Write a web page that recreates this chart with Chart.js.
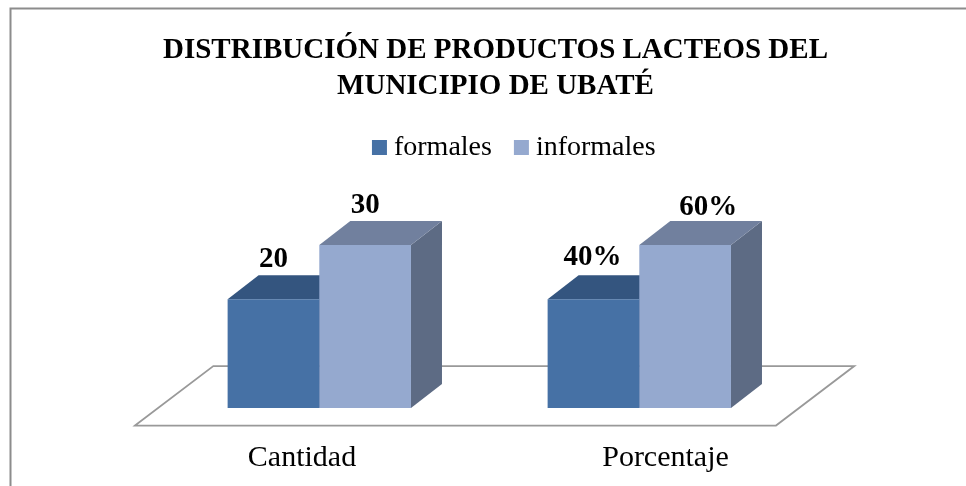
<!DOCTYPE html>
<html>
<head>
<meta charset="utf-8">
<script src="https://cdn.jsdelivr.net/npm/chart.js@4/dist/chart.umd.min.js"></script>
<style>
  html, body { margin: 0; padding: 0; background: #fff; }
  #wrap { width: 966px; height: 486px; position: relative; }
</style>
</head>
<body>
<div id="wrap"><canvas id="chart"></canvas></div>
<script>
const categories = ['Cantidad', 'Porcentaje'];
const seriesNames = ['formales', 'informales'];
const formales = [20, 40];
const informales = [30, 60];
const suffixes = ['', '%'];

const serif = "'Liberation Serif', serif";
const front = ['#4671A5', '#95A9CF'];
const topFace = ['#34557F', '#71809E'];
const sideFace = ['#34557F', '#5D6B84'];
const depthX = 31, depthY = 24;

// each category is drawn as its share, both groups have the same height in the picture
const share = (a, b) => a.map((v, i) => v / (v + b[i]));

// the labels don't sit on the bar centres in the original
const labelShift = [[[0, -1], [-1, -3]], [[0, -1], [23, 1.5]]];
const categoryLabelAt = [142.7, 506.2];

const frame3d = {
  id: 'frame3d',
  afterLayout(chart) {
    // title wider than the plot, otherwise it gets squeezed to the box
    chart.titleBlock.left = 140;
    chart.titleBlock.right = 851;
    chart.legend.left += 38;
    chart.legend.right += 38;
    chart.legend.top -= 0.7;
    chart.legend.bottom -= 0.7;
  },
  beforeDraw(chart) {
    const { ctx } = chart;
    ctx.save();
    ctx.strokeStyle = '#8C8C8C';
    ctx.lineWidth = 2;
    ctx.beginPath();
    ctx.moveTo(10.5, 486);
    ctx.lineTo(10.5, 8.5);
    ctx.lineTo(966, 8.5);
    ctx.stroke();
    ctx.restore();
  },
  beforeDatasetsDraw(chart) {
    const { ctx, scales: { x, y } } = chart;
    const base = y.getPixelForValue(0);
    // floor
    ctx.save();
    ctx.strokeStyle = '#999';
    ctx.lineWidth = 1.75;
    ctx.beginPath();
    ctx.moveTo(x.left - 24.3, base + 17.5);
    ctx.lineTo(x.left + 54, base - 42);
    ctx.lineTo(x.right + 55, base - 42);
    ctx.lineTo(x.right - 23.3, base + 17.5);
    ctx.closePath();
    ctx.stroke();
    // top and side of every bar
    chart.data.datasets.forEach((ds, d) => {
      chart.getDatasetMeta(d).data.forEach(bar => {
        const l = bar.x - bar.width / 2, r = bar.x + bar.width / 2;
        ctx.fillStyle = sideFace[d];
        ctx.beginPath();
        ctx.moveTo(r, bar.y);
        ctx.lineTo(r + depthX, bar.y - depthY);
        ctx.lineTo(r + depthX, bar.base - depthY);
        ctx.lineTo(r, bar.base);
        ctx.closePath();
        ctx.fill();
        ctx.fillStyle = topFace[d];
        ctx.beginPath();
        ctx.moveTo(l, bar.y);
        ctx.lineTo(l + depthX, bar.y - depthY);
        ctx.lineTo(r + depthX, bar.y - depthY);
        ctx.lineTo(r, bar.y);
        ctx.closePath();
        ctx.fill();
      });
    });
    ctx.restore();
  },
  afterDatasetsDraw(chart) {
    const { ctx } = chart;
    const values = [formales, informales];
    ctx.save();
    ctx.font = 'bold 29px ' + serif;
    ctx.fillStyle = '#000';
    ctx.textAlign = 'center';
    ctx.textBaseline = 'alphabetic';
    chart.data.datasets.forEach((ds, d) => {
      chart.getDatasetMeta(d).data.forEach((bar, i) => {
        const s = labelShift[d][i];
        ctx.fillText(values[d][i] + suffixes[i], bar.x + s[0], bar.y - 31 + s[1]);
      });
    });
    ctx.restore();
  }
};

new Chart(document.getElementById('chart').getContext('2d'), {
  type: 'bar',
  data: {
    labels: categories,
    datasets: [
      { label: seriesNames[0], data: share(formales, informales), backgroundColor: front[0] },
      { label: seriesNames[1], data: share(informales, formales), backgroundColor: front[1] }
    ]
  },
  options: {
    responsive: true,
    maintainAspectRatio: false,
    animation: false,
    layout: { padding: { top: 32.3, left: 159.3, right: 166.7, bottom: 0 } },
    categoryPercentage: 0.573,
    barPercentage: 1,
    scales: {
      x: { display: false },
      labelsX: {
        type: 'linear',
        position: 'bottom',
        offset: false,
        min: 0,
        max: 640,
        afterBuildTicks: (scale) => { scale.ticks = categoryLabelAt.map(v => ({ value: v })); },
        afterFit: (scale) => {
          scale.height = 78;
          scale.paddingLeft = 0;
          scale.paddingRight = 0;
        },
        grid: { display: false, drawTicks: false },
        border: { display: false },
        ticks: {
          autoSkip: false,
          maxRotation: 0,
          padding: 32,
          color: '#000',
          font: { family: serif, size: 30 },
          callback: (value, i) => categories[i]
        }
      },
      y: { display: false, min: 0, max: 0.868 }
    },
    plugins: {
      title: {
        display: true,
        text: ['DISTRIBUCIÓN DE PRODUCTOS LACTEOS DEL', 'MUNICIPIO DE UBATÉ'],
        color: '#000',
        padding: 0,
        font: { family: serif, size: 29, weight: 'bold', lineHeight: 1.255 }
      },
      legend: {
        position: 'top',
        labels: {
          usePointStyle: true,
          pointStyle: 'rect',
          boxWidth: 1,
          boxHeight: 15,
          padding: 29,
          color: '#000',
          font: { family: serif, size: 28 }
        }
      },
      tooltip: { enabled: false }
    }
  },
  plugins: [frame3d]
});
</script>
</body>
</html>
